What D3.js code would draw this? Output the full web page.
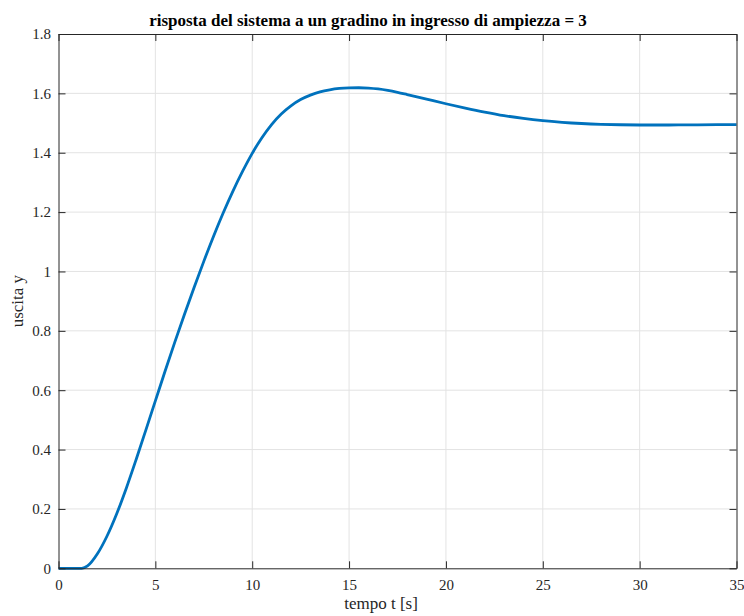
<!DOCTYPE html>
<html>
<head>
<meta charset="utf-8">
<script src="https://cdn.jsdelivr.net/npm/d3@7"></script>
<style>
  html, body { margin: 0; padding: 0; background: #fff; }
  svg { display: block; }
  text { font-family: "Liberation Serif", "Times New Roman", serif; fill: #262626; }
</style>
</head>
<body>
<svg id="chart" width="744" height="616"></svg>
<script>
// ---- data ----
const timeValues = [0, 1, 1.2, 1.5, 2, 2.5, 3, 3.5, 4, 4.5, 5, 5.5, 6, 6.5, 7, 7.5, 8, 8.5, 9, 9.5, 10,
  10.5, 11, 11.5, 12, 12.5, 13, 13.5, 14, 14.5, 15, 15.5, 16, 16.5, 17, 17.5, 18, 19, 20, 21, 22, 23, 24, 25, 26, 27, 28, 29, 30, 31, 32, 33, 34, 35];
const outputValues = [0, 0, 0, 0.008, 0.048, 0.108, 0.183, 0.27, 0.365, 0.464, 0.564, 0.664, 0.761, 0.855, 0.946, 1.034, 1.118, 1.197, 1.27, 1.337, 1.398,
  1.4505, 1.495, 1.5305, 1.558, 1.579, 1.594, 1.605, 1.612, 1.6165, 1.6185, 1.619, 1.618, 1.615, 1.610, 1.6035, 1.596, 1.5805, 1.565, 1.5505, 1.537, 1.525, 1.5155, 1.508, 1.5025, 1.4985, 1.4958, 1.4942, 1.4935, 1.4934, 1.4936, 1.494, 1.4945, 1.495];
const xTicks = [0, 5, 10, 15, 20, 25, 30, 35];
const yTicks = [0, 0.2, 0.4, 0.6, 0.8, 1, 1.2, 1.4, 1.6, 1.8];
const titleText = "risposta del sistema a un gradino in ingresso di ampiezza = 3";
const xLabelText = "tempo t [s]";
const yLabelText = "uscita y";

// ---- layout ----
const mLeft = 58.5, mRight = 736.5, mTop = 34, mBottom = 568.3;
const svg = d3.select("#chart");
const x = d3.scaleLinear().domain([0, 35]).range([mLeft, mRight]);
const y = d3.scaleLinear().domain([0, 1.8]).range([mBottom, mTop]);
const tickLen = 7;
const axisColor = "#262626";
const gridColor = "#e3e3e3";

// grid
svg.append("g").selectAll("line").data(xTicks.slice(1, -1)).join("line")
  .attr("x1", d => x(d)).attr("x2", d => x(d)).attr("y1", mTop).attr("y2", mBottom)
  .attr("stroke", gridColor).attr("stroke-width", 1);
svg.append("g").selectAll("line").data(yTicks.slice(1, -1)).join("line")
  .attr("y1", d => y(d)).attr("y2", d => y(d)).attr("x1", mLeft).attr("x2", mRight)
  .attr("stroke", gridColor).attr("stroke-width", 1);

// data line
const line = d3.line().x((d, i) => x(timeValues[i])).y(d => y(d)).curve(d3.curveMonotoneX);
svg.append("path").datum(outputValues)
  .attr("d", line).attr("fill", "none").attr("stroke", "#0072BD")
  .attr("stroke-width", 2.8).attr("stroke-linejoin", "round");

// axes using d3 axes (ticks inward)
const fmt = d => String(d);
const xAxisB = d3.axisBottom(x).tickValues(xTicks).tickSizeInner(-tickLen).tickSizeOuter(0).tickPadding(11).tickFormat(fmt);
const xAxisT = d3.axisTop(x).tickValues(xTicks).tickSizeInner(-tickLen).tickSizeOuter(0).tickFormat("");
const yAxisL = d3.axisLeft(y).tickValues(yTicks).tickSizeInner(-tickLen).tickSizeOuter(0).tickPadding(7.5).tickFormat(fmt);
const yAxisR = d3.axisRight(y).tickValues(yTicks).tickSizeInner(-tickLen).tickSizeOuter(0).tickFormat("");

function styleAxis(g) {
  g.attr("font-family", null);
  g.selectAll(".domain").attr("stroke", axisColor).attr("stroke-width", 1);
  g.selectAll(".tick line").attr("stroke", axisColor).attr("stroke-width", 1);
  g.selectAll(".tick text").attr("font-size", 15).attr("fill", axisColor);
}
svg.append("g").attr("transform", `translate(0,${mBottom})`).call(xAxisB).call(styleAxis);
svg.append("g").attr("transform", `translate(0,${mTop})`).call(xAxisT).call(styleAxis);
svg.append("g").attr("transform", `translate(${mLeft},0)`).call(yAxisL).call(styleAxis);
svg.append("g").attr("transform", `translate(${mRight},0)`).call(yAxisR).call(styleAxis);

// title and labels
svg.append("text").attr("x", 368).attr("y", 26).attr("text-anchor", "middle")
  .attr("font-size", 17).attr("font-weight", "bold").style("fill", "#000").text(titleText);
svg.append("text").attr("x", 381).attr("y", 609).attr("text-anchor", "middle")
  .attr("font-size", 17).text(xLabelText);
svg.append("text").attr("transform", `translate(23,${(mTop + mBottom) / 2}) rotate(-90)`)
  .attr("text-anchor", "middle").attr("font-size", 17).text(yLabelText);
</script>
</body>
</html>
